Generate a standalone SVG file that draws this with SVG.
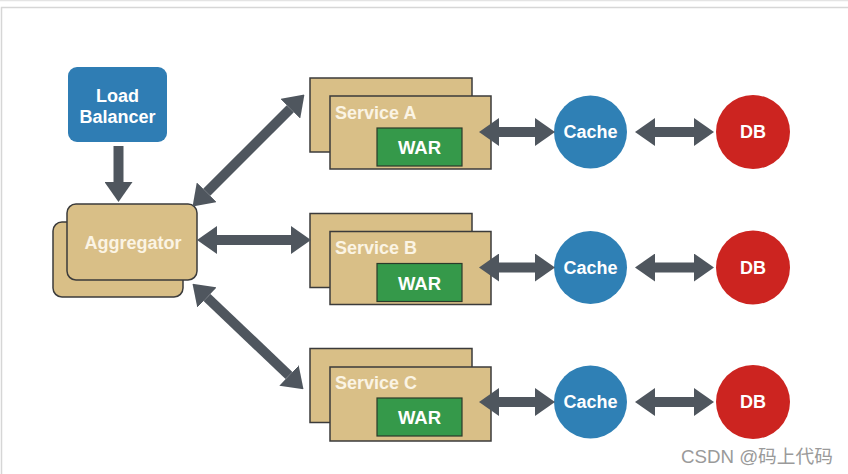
<svg xmlns="http://www.w3.org/2000/svg" width="848" height="474" viewBox="0 0 848 474">
<style>
.lb{fill:#2f7db4}
.tan{fill:#d9bf87;stroke:#3b3b3b;stroke-width:1.5}
.war{fill:#35994a;stroke:#2a3a2a;stroke-width:1.2}
.cache{fill:#2f80b5}
.db{fill:#cc2420}
.t{font-family:"Liberation Sans",Arial,sans-serif;font-weight:bold;font-size:18px;fill:#ffffff}
.tw{font-size:18.5px}
.tc{font-family:"Liberation Sans",Arial,sans-serif;font-weight:bold;font-size:18px;fill:#fbf4e4}
.ar{stroke:#4f565e;stroke-width:10;fill:none}
.wm{font-family:"Liberation Sans","Noto Sans CJK SC",sans-serif;font-size:18.7px;fill:#9a9a9a}
</style>
<defs>
<marker id="ah" markerUnits="userSpaceOnUse" markerWidth="20" markerHeight="28" viewBox="0 0 20 28" refX="0" refY="14" orient="auto-start-reverse">
<path d="M0,0 L20,14 L0,28 z" fill="#4f565e"/>
</marker>
</defs>
<rect width="848" height="474" fill="#ffffff"/>
<line x1="0" y1="0.5" x2="848" y2="0.5" stroke="#e4e4e4" stroke-width="1.5"/>
<path d="M1.5,474 V7.5 H848" fill="none" stroke="#d6d6d6" stroke-width="1.5"/>

<g id="load-balancer">
<rect class="lb" x="68" y="67" width="99" height="75" rx="9"/>
<text class="t" x="117.5" y="101.5" text-anchor="middle">Load</text>
<text class="t" x="117.5" y="123" text-anchor="middle">Balancer</text>
</g>

<g id="aggregator">
<rect class="tan" x="53" y="222" width="130" height="75" rx="9"/>
<rect class="tan" x="67" y="204" width="130" height="76" rx="9"/>
<text class="tc" x="133" y="249" text-anchor="middle">Aggregator</text>
</g>

<g id="service-a">
<rect class="tan" x="310" y="78" width="162" height="74"/>
<rect class="tan" x="330" y="96" width="161" height="73"/>
<text class="tc" x="335" y="118.5">Service A</text>
<rect class="war" x="377" y="128" width="85" height="38"/>
<text class="t tw" x="419.5" y="154" text-anchor="middle">WAR</text>
</g>

<g id="service-b">
<rect class="tan" x="310" y="213.5" width="162" height="74"/>
<rect class="tan" x="330" y="231.5" width="161" height="73"/>
<text class="tc" x="335" y="254">Service B</text>
<rect class="war" x="377" y="263.5" width="85" height="38"/>
<text class="t tw" x="419.5" y="289.5" text-anchor="middle">WAR</text>
</g>

<g id="service-c">
<rect class="tan" x="310" y="348.5" width="162" height="74"/>
<rect class="tan" x="330" y="367" width="161" height="74"/>
<text class="tc" x="335" y="389">Service C</text>
<rect class="war" x="377" y="398" width="85" height="38"/>
<text class="t tw" x="419.5" y="424" text-anchor="middle">WAR</text>
</g>

<g id="cache-a"><circle class="cache" cx="590.5" cy="132" r="36.5"/><text class="t" x="590.5" y="138" text-anchor="middle">Cache</text></g>
<g id="cache-b"><circle class="cache" cx="590.5" cy="267.5" r="36.5"/><text class="t" x="590.5" y="273.5" text-anchor="middle">Cache</text></g>
<g id="cache-c"><circle class="cache" cx="590.5" cy="402" r="36.5"/><text class="t" x="590.5" y="408" text-anchor="middle">Cache</text></g>

<g id="db-a"><circle class="db" cx="753" cy="132" r="37"/><text class="t" x="753" y="138" text-anchor="middle">DB</text></g>
<g id="db-b"><circle class="db" cx="753" cy="267.5" r="37"/><text class="t" x="753" y="273.5" text-anchor="middle">DB</text></g>
<g id="db-c"><circle class="db" cx="753" cy="402" r="37"/><text class="t" x="753" y="408" text-anchor="middle">DB</text></g>

<g id="connectors">
<line class="ar" x1="118.5" y1="146" x2="118.5" y2="182" marker-end="url(#ah)"/>
<line class="ar" x1="206.7" y1="192.3" x2="290.3" y2="108.7" marker-start="url(#ah)" marker-end="url(#ah)"/>
<line class="ar" x1="217" y1="240" x2="291" y2="240" marker-start="url(#ah)" marker-end="url(#ah)"/>
<line class="ar" x1="207" y1="297.5" x2="289" y2="375.5" marker-start="url(#ah)" marker-end="url(#ah)"/>
<line class="ar" x1="499" y1="132" x2="535" y2="132" marker-start="url(#ah)" marker-end="url(#ah)"/>
<line class="ar" x1="499" y1="267.5" x2="535" y2="267.5" marker-start="url(#ah)" marker-end="url(#ah)"/>
<line class="ar" x1="499" y1="402" x2="535" y2="402" marker-start="url(#ah)" marker-end="url(#ah)"/>
<line class="ar" x1="655" y1="132" x2="694" y2="132" marker-start="url(#ah)" marker-end="url(#ah)"/>
<line class="ar" x1="655" y1="267.5" x2="694" y2="267.5" marker-start="url(#ah)" marker-end="url(#ah)"/>
<line class="ar" x1="655" y1="402" x2="694" y2="402" marker-start="url(#ah)" marker-end="url(#ah)"/>
</g>

<text class="wm" x="681" y="463">CSDN @码上代码</text>
</svg>
